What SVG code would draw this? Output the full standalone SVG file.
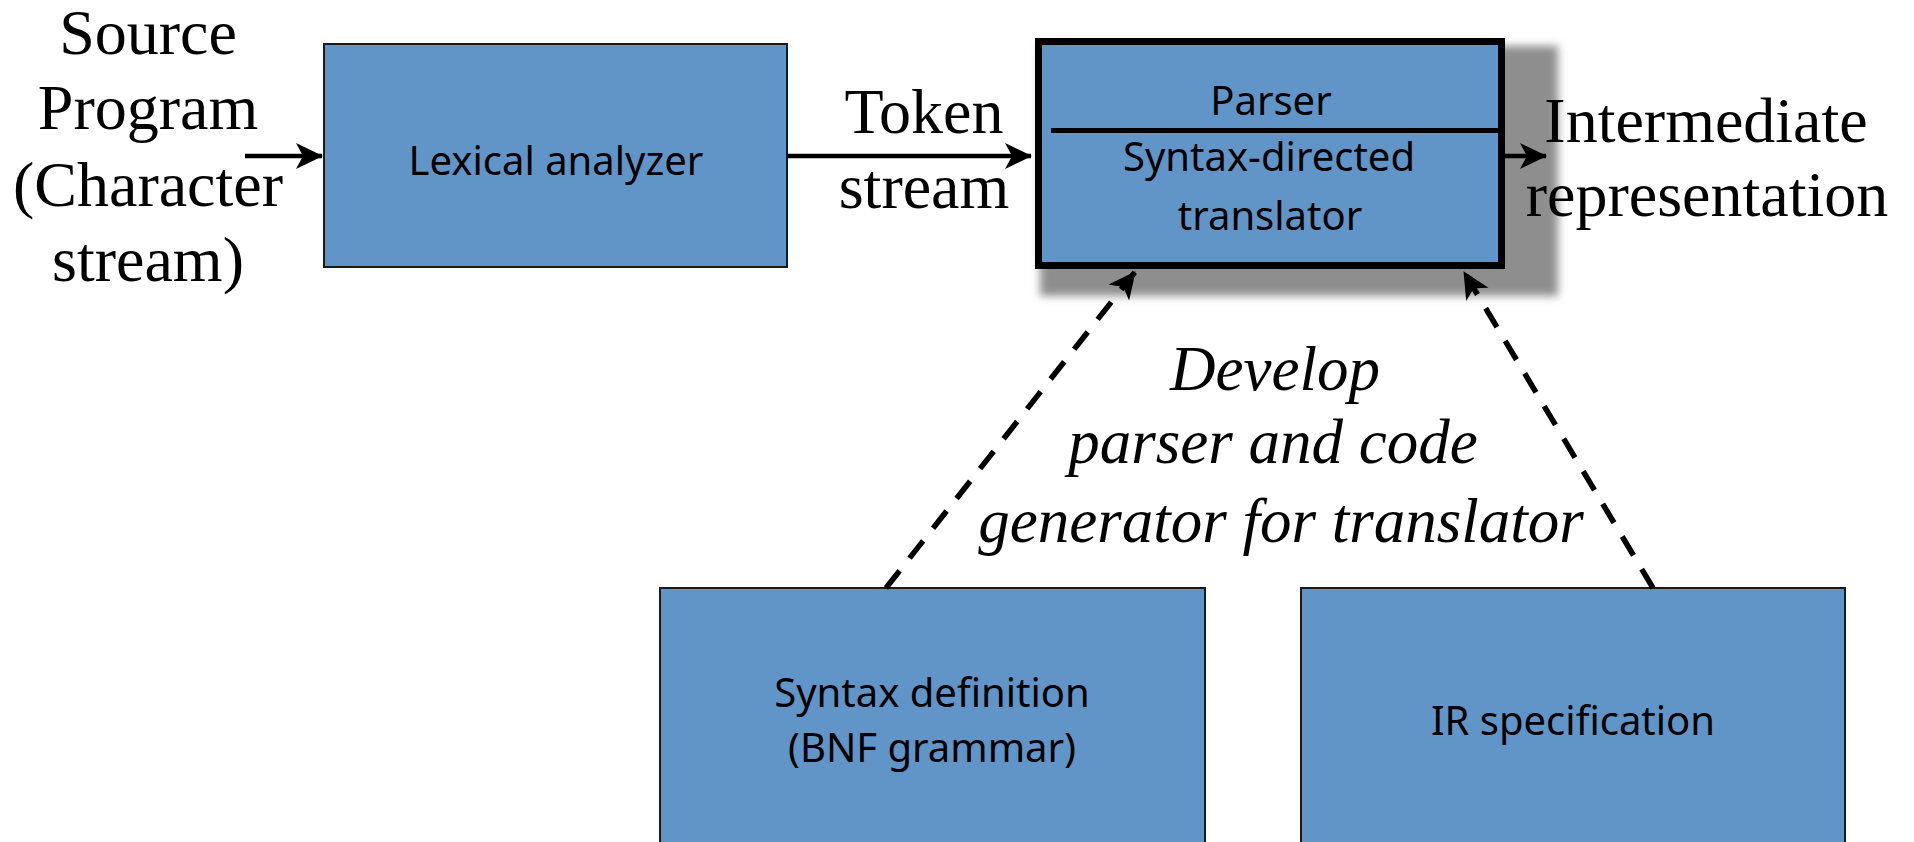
<svg xmlns="http://www.w3.org/2000/svg" width="1914" height="842" viewBox="0 0 1914 842">
<defs>
<style>
.box{fill:#6195C8;stroke:#1a1a1a;stroke-width:2}
.lbl{font-family:"Noto Sans","Open Sans",sans-serif;font-size:40px;fill:#000;text-anchor:middle}
.serif{font-family:"Liberation Serif","Times New Roman",serif;font-size:64px;fill:#000;text-anchor:middle}
.ital{font-family:"Liberation Serif","Times New Roman",serif;font-size:63px;font-style:italic;fill:#000;text-anchor:middle}
.con{stroke:#000;stroke-width:4.5;fill:none}
.dash{stroke:#000;stroke-width:5.5;fill:none;stroke-dasharray:22 16}
</style>
<marker id="ah" markerUnits="userSpaceOnUse" markerWidth="28" markerHeight="28" viewBox="0 0 28 28" refX="26" refY="14" orient="auto">
<path d="M0,1 L27,14 L0,27 L7,14 z" fill="#000"/>
</marker>
<filter id="blur" x="-10%" y="-10%" width="120%" height="120%">
<feGaussianBlur stdDeviation="4"/>
</filter>
</defs>

<g id="source-label">
<text class="serif" x="148" y="54">Source</text>
<text class="serif" x="148" y="129">Program</text>
<text class="serif" x="148" y="206">(Character</text>
<text class="serif" x="148" y="281">stream)</text>
</g>

<g id="lexical-analyzer">
<rect class="box" x="324" y="44" width="463" height="223"/>
<text class="lbl" x="556" y="175">Lexical analyzer</text>
</g>

<g id="token-label">
<text class="serif" x="924" y="133">Token</text>
<text class="serif" x="924" y="208">stream</text>
</g>

<g id="parser">
<rect x="1040" y="46" width="518" height="250" fill="#8e8e8e" filter="url(#blur)"/>
<rect x="1038.5" y="41.5" width="463" height="224" fill="#6195C8" stroke="#000" stroke-width="7"/>
<line x1="1051" y1="130.5" x2="1500" y2="130.5" stroke="#000" stroke-width="5"/>
<text class="lbl" x="1271" y="115">Parser</text>
<text class="lbl" x="1269" y="171">Syntax-directed</text>
<text class="lbl" x="1270" y="230">translator</text>
</g>

<g id="ir-label">
<text class="serif" x="1706" y="142">Intermediate</text>
<text class="serif" x="1707" y="216">representation</text>
</g>

<g id="develop-label">
<text class="ital" x="1275" y="390">Develop</text>
<text class="ital" x="1273" y="463">parser and code</text>
<text class="ital" x="1281" y="542">generator for translator</text>
</g>

<g id="syntax-definition">
<rect class="box" x="660" y="588" width="545" height="270"/>
<text class="lbl" x="932" y="707">Syntax definition</text>
<text class="lbl" x="932" y="762">(BNF grammar)</text>
</g>

<g id="ir-specification">
<rect class="box" x="1301" y="588" width="544" height="270"/>
<text class="lbl" x="1573" y="735">IR specification</text>
</g>

<g id="connectors">
<line class="con" x1="245" y1="156" x2="322" y2="156" marker-end="url(#ah)"/>
<line class="con" x1="788" y1="156" x2="1031" y2="156" marker-end="url(#ah)"/>
<line class="con" x1="1505" y1="156" x2="1546" y2="156" marker-end="url(#ah)"/>
<line class="dash" x1="886" y1="588" x2="1135" y2="272" marker-end="url(#ah)"/>
<line class="dash" x1="1653" y1="588" x2="1464" y2="272" marker-end="url(#ah)"/>
</g>
</svg>
